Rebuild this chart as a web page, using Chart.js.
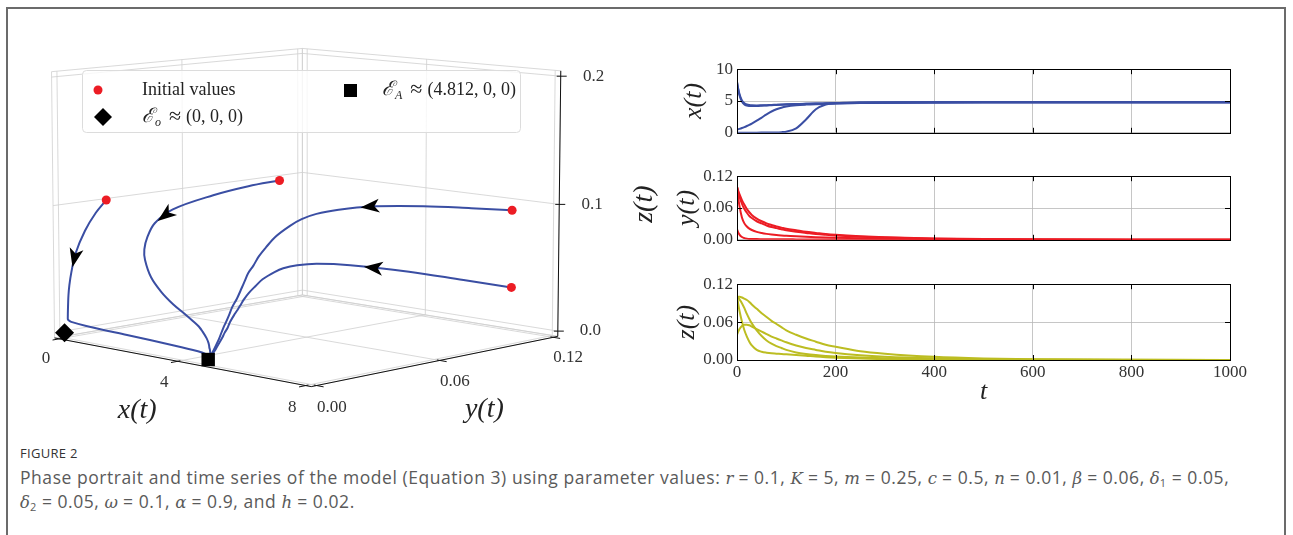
<!DOCTYPE html>
<html>
<head>
<meta charset="utf-8">
<script src="https://cdn.jsdelivr.net/npm/chart.js@4.4.1/dist/chart.umd.min.js"></script>
<style>
  body { margin: 0; background: #fff; width: 1293px; height: 535px; overflow: hidden; position: relative; }
  #frame { position: absolute; left: 6px; top: 7px; width: 1276px; height: 560px; border: 2px solid #6b6b6b; border-bottom: 0; }
  canvas { position: absolute; }
  #phase { left: 0; top: 0; }
  #tsx { left: 630px; top: 55px; }
  #tsy { left: 630px; top: 162px; }
  #tsz { left: 630px; top: 270px; }
  .figno { position: absolute; left: 20px; top: 444px; font: 13px "Open Sans", sans-serif; color: #333; letter-spacing: 0.3px; }
  .caption { position: absolute; left: 20px; top: 466px; width: 1262px; font: 17.5px "Open Sans", sans-serif; letter-spacing: 0.55px; line-height: 22px; color: #5a5a5a; white-space: nowrap; }
  .caption i { font-family: "DejaVu Serif", serif; font-size: 16.5px; letter-spacing: 0; }
  .caption sub { font-size: 11px; line-height: 0; vertical-align: -3px; }
</style>
</head>
<body>
<div id="frame"></div>
<canvas id="phase" width="680" height="430"></canvas>
<canvas id="tsx" width="620" height="92"></canvas>
<canvas id="tsy" width="620" height="92"></canvas>
<canvas id="tsz" width="620" height="140"></canvas>
<div class="figno">FIGURE 2</div>
<div class="caption">Phase portrait and time series of the model (Equation 3) using parameter values: <i>r</i> = 0.1, <i>K</i> = 5, <i>m</i> = 0.25, <i>c</i> = 0.5, <i>n</i> = 0.01, <i>β</i> = 0.06, <i>δ</i><sub>1</sub> = 0.05,<br><i>δ</i><sub>2</sub> = 0.05, <i>ω</i> = 0.1, <i>α</i> = 0.9, and <i>h</i> = 0.02.</div>

<script>
'use strict';

// time samples shared by the four solutions
const TIME = [0, 2, 5, 10, 15, 20, 25, 30, 40, 50, 60, 70, 80, 90, 100, 120, 140, 160, 180, 200, 250, 300, 400, 500, 600, 800, 1000];

// solution 1, starts near (0.02, 0.02, 0.1)
const X1 = [0.02, 0.02, 0.02, 0.02, 0.021, 0.021, 0.022, 0.023, 0.026, 0.03, 0.036, 0.045, 0.06, 0.1, 0.17, 0.7, 2.1, 3.7, 4.45, 4.68, 4.79, 4.81, 4.81, 4.81, 4.81, 4.81, 4.81];
const Y1 = [0.02, 0.015, 0.0098, 0.0052, 0.0032, 0.0022, 0.0017, 0.0015, 0.0013, 0.0012, 0.0011, 0.001, 0.001, 0.001, 0.0009, 0.0008, 0.0007, 0.0006, 0.0005, 0.0004, 0.0003, 0.0002, 0.0001, 0.0001, 0, 0, 0];
const Z1 = [0.1, 0.091, 0.078, 0.061, 0.047, 0.037, 0.029, 0.023, 0.016, 0.013, 0.0115, 0.0105, 0.01, 0.0095, 0.009, 0.008, 0.0068, 0.0055, 0.0045, 0.0037, 0.0022, 0.0013, 0.0005, 0.0002, 0.0001, 0, 0];

// solution 2, starts at (0.5, 0.1, 0.1)
const X2 = [0.5, 0.55, 0.62, 0.75, 0.9, 1.07, 1.25, 1.45, 1.9, 2.4, 2.9, 3.35, 3.7, 3.95, 4.12, 4.32, 4.43, 4.5, 4.55, 4.6, 4.68, 4.73, 4.78, 4.8, 4.81, 4.81, 4.81];
const Y2 = [0.1, 0.083, 0.064, 0.042, 0.031, 0.025, 0.021, 0.0185, 0.015, 0.0128, 0.0112, 0.01, 0.009, 0.0082, 0.0075, 0.0065, 0.0057, 0.005, 0.0044, 0.0039, 0.0029, 0.0022, 0.0012, 0.0007, 0.0004, 0.0001, 0];
const Z2 = [0.1, 0.099, 0.096, 0.09, 0.082, 0.073, 0.065, 0.058, 0.047, 0.038, 0.031, 0.026, 0.022, 0.019, 0.016, 0.012, 0.0095, 0.0078, 0.0065, 0.0055, 0.0038, 0.0027, 0.0014, 0.0007, 0.0004, 0.0001, 0];

// solution 3, starts at (8, 0.1, 0.1)
const X3 = [8, 7.1, 6.1, 5.1, 4.65, 4.45, 4.36, 4.32, 4.3, 4.32, 4.35, 4.38, 4.41, 4.44, 4.47, 4.52, 4.56, 4.6, 4.63, 4.66, 4.71, 4.75, 4.79, 4.8, 4.81, 4.81, 4.81];
const Y3 = [0.1, 0.094, 0.086, 0.075, 0.066, 0.058, 0.052, 0.047, 0.04, 0.035, 0.031, 0.028, 0.025, 0.023, 0.021, 0.018, 0.015, 0.013, 0.011, 0.0095, 0.0068, 0.0049, 0.0025, 0.0013, 0.0007, 0.0002, 0.0001];
const Z3 = [0.1, 0.1, 0.1, 0.099, 0.097, 0.095, 0.092, 0.088, 0.081, 0.074, 0.068, 0.062, 0.057, 0.052, 0.047, 0.04, 0.034, 0.029, 0.024, 0.021, 0.014, 0.01, 0.005, 0.0025, 0.0013, 0.0004, 0.0001];

// solution 4, starts at (8, 0.1, 0.04)
const X4 = [8, 7.0, 5.9, 4.9, 4.45, 4.28, 4.22, 4.2, 4.21, 4.25, 4.3, 4.34, 4.38, 4.42, 4.45, 4.5, 4.55, 4.59, 4.62, 4.65, 4.7, 4.74, 4.78, 4.8, 4.81, 4.81, 4.81];
const Y4 = [0.1, 0.092, 0.082, 0.068, 0.058, 0.051, 0.045, 0.041, 0.035, 0.031, 0.027, 0.024, 0.022, 0.02, 0.018, 0.015, 0.013, 0.011, 0.0095, 0.0082, 0.0058, 0.0042, 0.0022, 0.0011, 0.0006, 0.0002, 0.0001];
const Z4 = [0.04, 0.044, 0.049, 0.054, 0.056, 0.056, 0.055, 0.053, 0.049, 0.045, 0.041, 0.037, 0.034, 0.031, 0.028, 0.023, 0.019, 0.016, 0.013, 0.011, 0.0075, 0.0052, 0.0026, 0.0013, 0.0007, 0.0002, 0.0001];

// time along each solution where the direction arrow sits
const ARROW_T = [11, 12, 10, 8];

// equilibria
const EQ_O = [0, 0, 0];
const EQ_A = [4.812, 0, 0];

// axis limits and ticks
const X_LIM = [0, 8], Y_LIM = [0, 0.12], Z_LIM = [0, 0.2];
const X_TICKS = [0, 4, 8];
const Y_TICKS = [0, 0.06, 0.12];
const Z_TICKS = [0, 0.1, 0.2];
const T_TICKS = [0, 200, 400, 600, 800, 1000];
const XT_TICKS = [0, 5, 10];
const YT_TICKS = [0, 0.06, 0.12];

const BLUE = '#3a4ea3';
const RED = '#ec1c24';
const OLIVE = '#bcbd22';
const GRID = '#b8b8b8';
const SERIF = '"Liberation Serif", "DejaVu Serif", serif';

// ---------- 3d projection, roughly matplotlib's perspective view ----------
const AZIM = -46 * Math.PI / 180;
const ELEV = 8 * Math.PI / 180;
const DIST = 35;
const SCALE = 89.5;
const CX = 306.5, CY = 205;

// matplotlib pads the box by 1/48 of the range on each side
function boxLim(lim) {
  const pad = (lim[1] - lim[0]) / 48;
  return [lim[0] - pad, lim[1] + pad];
}
function norm(v, lim, size) {
  const b = boxLim(lim);
  return ((v - b[0]) / (b[1] - b[0]) - 0.5) * size;
}
function screenN(X, Y, Z) {
  const sa = Math.sin(AZIM), ca = Math.cos(AZIM), se = Math.sin(ELEV), ce = Math.cos(ELEV);
  const sx = -sa * X + ca * Y;
  const sy = -se * ca * X - se * sa * Y + ce * Z;
  const d = ce * ca * X + ce * sa * Y + se * Z;
  const f = DIST / (DIST - d);
  return { x: CX + SCALE * sx * f, y: CY - SCALE * sy * f };
}
function project(x, y, z) {
  return screenN(norm(x, X_LIM, 4), norm(y, Y_LIM, 4), norm(z, Z_LIM, 3));
}

const SOLUTIONS = [[X1, Y1, Z1], [X2, Y2, Z2], [X3, Y3, Z3], [X4, Y4, Z4]];

const trajDatasets = SOLUTIONS.map(([xs, ys, zs]) => ({
  data: TIME.map((t, i) => project(xs[i], ys[i], zs[i])),
  showLine: true,
  borderColor: BLUE,
  borderWidth: 2,
  pointRadius: 0,
  tension: 0.35,
  order: 2
}));

const initDataset = {
  data: SOLUTIONS.map(([xs, ys, zs]) => project(xs[0], ys[0], zs[0])),
  pointRadius: 4.5,
  pointBackgroundColor: RED,
  pointBorderWidth: 0,
  showLine: false,
  order: 0
};
const eqODataset = {
  data: [project(...EQ_O)],
  pointStyle: 'rectRot',
  pointRadius: 9.5,
  pointBackgroundColor: '#000',
  pointBorderWidth: 0,
  order: 0
};
const eqADataset = {
  data: [project(...EQ_A)],
  pointStyle: 'rect',
  pointRadius: 9.5,
  pointBackgroundColor: '#000',
  pointBorderWidth: 0,
  order: 0
};

// box, grid, axes and labels of the 3d plot
const boxPlugin = {
  id: 'box3d',
  beforeDatasetsDraw(chart) {
    const c = chart.ctx;
    const sxs = chart.scales.x, sys = chart.scales.y;
    const px = p => ({ x: sxs.getPixelForValue(p.x), y: sys.getPixelForValue(p.y) });
    const [xl, xh] = boxLim(X_LIM), [yl, yh] = boxLim(Y_LIM), [zl, zh] = boxLim(Z_LIM);
    const P = (x, y, z) => px(project(x, y, z));
    const N = (X, Y, Z) => px(screenN(X, Y, Z));
    const seg = (a, b) => { c.beginPath(); c.moveTo(a.x, a.y); c.lineTo(b.x, b.y); c.stroke(); };
    c.save();
    c.strokeStyle = '#cfcfcf';
    c.lineWidth = 0.8;
    // left wall
    for (const y of [yl, ...Y_TICKS, yh]) seg(P(xl, y, zl), P(xl, y, zh));
    for (const z of [zl, ...Z_TICKS, zh]) seg(P(xl, yl, z), P(xl, yh, z));
    // back wall
    for (const x of [xl, ...X_TICKS, xh]) seg(P(x, yh, zl), P(x, yh, zh));
    for (const z of [zl, ...Z_TICKS, zh]) seg(P(xl, yh, z), P(xh, yh, z));
    // floor
    for (const x of [xl, ...X_TICKS, xh]) seg(P(x, yl, zl), P(x, yh, zl));
    for (const y of [yl, ...Y_TICKS, yh]) seg(P(xl, y, zl), P(xh, y, zl));

    // axis lines
    c.strokeStyle = '#111';
    c.lineWidth = 1;
    seg(P(xl, yl, zl), P(xh, yl, zl));
    seg(P(xh, yl, zl), P(xh, yh, zl));
    seg(P(xh, yh, zl), P(xh, yh, zh));

    // ticks
    for (const x of X_TICKS) {
      const nx = norm(x, X_LIM, 4);
      seg(N(nx, -2 + 0.04, -1.5), N(nx, -2 - 0.1, -1.5));
    }
    for (const y of Y_TICKS) {
      const ny = norm(y, Y_LIM, 4);
      seg(N(2 - 0.04, ny, -1.5), N(2 + 0.1, ny, -1.5));
    }
    for (const z of Z_TICKS) {
      const p = P(xh, yh, z);
      seg({ x: p.x - 4, y: p.y }, { x: p.x + 6, y: p.y });
    }

    // tick labels
    c.fillStyle = '#333';
    c.font = '17px ' + SERIF;
    c.textAlign = 'center';
    c.textBaseline = 'middle';
    for (const x of X_TICKS) {
      const p = N(norm(x, X_LIM, 4), -2 - 0.2, -1.5 - 0.2);
      c.fillText(String(x), p.x, p.y);
    }
    for (const y of Y_TICKS) {
      const p = N(2 + 0.22, norm(y, Y_LIM, 4), -1.5 - 0.2);
      c.fillText(y.toFixed(2), p.x, p.y);
    }
    for (const z of Z_TICKS) {
      const p = N(2 + 0.26, 2 + 0.26, norm(z, Z_LIM, 3));
      c.fillText(z.toFixed(1), p.x, p.y);
    }

    // axis titles
    c.font = 'italic 28px ' + SERIF;
    c.fillStyle = '#222';
    let p = N(0, -2 - 0.6, -1.5 - 0.45);
    c.fillText('x(t)', p.x, p.y);
    p = N(2 + 0.64, 0, -1.5 - 0.45);
    c.fillText('y(t)', p.x, p.y);
    p = N(2 + 0.68, 2 + 0.68, 0);
    c.translate(p.x, p.y);
    c.rotate(-Math.PI / 2);
    c.fillText('z(t)', 0, 0);
    c.restore();
  },
  afterDatasetsDraw(chart) {
    const c = chart.ctx;
    const sxs = chart.scales.x, sys = chart.scales.y;
    const px = p => ({ x: sxs.getPixelForValue(p.x), y: sys.getPixelForValue(p.y) });
    c.save();
    c.fillStyle = '#000';
    SOLUTIONS.forEach(([xs, ys, zs], k) => {
      const ta = ARROW_T[k];
      const i = TIME.findIndex(t => t > ta) - 1;
      const f = (ta - TIME[i]) / (TIME[i + 1] - TIME[i]);
      const lerp = a => a[i] + f * (a[i + 1] - a[i]);
      const p = px(project(lerp(xs), lerp(ys), lerp(zs)));
      const a = px(project(xs[i], ys[i], zs[i]));
      const b = px(project(xs[i + 1], ys[i + 1], zs[i + 1]));
      const ang = Math.atan2(b.y - a.y, b.x - a.x);
      c.save();
      c.translate(p.x, p.y);
      c.rotate(ang);
      c.beginPath();
      c.moveTo(10, 0);
      c.lineTo(-9, -7);
      c.lineTo(-4, 0);
      c.lineTo(-9, 7);
      c.closePath();
      c.fill();
      c.restore();
    });
    c.restore();
  },
  afterDraw(chart) {
    const c = chart.ctx;
    c.save();
    // legend box
    c.beginPath();
    c.roundRect(82.5, 70.5, 438, 62, 4);
    c.fillStyle = 'rgba(255,255,255,0.8)';
    c.fill();
    c.strokeStyle = '#dcdcdc';
    c.lineWidth = 1;
    c.stroke();

    // markers
    c.fillStyle = RED;
    c.beginPath();
    c.arc(98, 90, 4.5, 0, Math.PI * 2);
    c.fill();
    c.fillStyle = '#000';
    c.beginPath();
    c.moveTo(103, 108); c.lineTo(112, 117); c.lineTo(103, 126); c.lineTo(94, 117);
    c.closePath();
    c.fill();
    c.fillRect(344, 84, 13, 13);

    // texts
    c.fillStyle = '#222';
    c.textBaseline = 'middle';
    c.textAlign = 'left';
    c.font = '18px ' + SERIF;
    c.fillText('Initial values', 142, 90);
    const eqLabel = (x, y, sub, rest) => {
      c.font = 'italic 20px ' + SERIF;
      c.fillText('\u2130', x, y);
      x += c.measureText('\u2130').width + 1;
      c.font = 'italic 12px ' + SERIF;
      c.fillText(sub, x, y + 6);
      x += c.measureText(sub).width + 8;
      c.font = '22px ' + SERIF;
      c.fillText('\u2248', x, y);
      x += c.measureText('\u2248').width + 5;
      c.font = '18px ' + SERIF;
      c.fillText(rest, x, y);
    };
    eqLabel(142, 117, 'o', '(0, 0, 0)');
    eqLabel(382, 90, 'A', '(4.812, 0, 0)');
    c.restore();
  }
};

new Chart(document.getElementById('phase'), {
  type: 'scatter',
  data: { datasets: [initDataset, eqODataset, eqADataset, ...trajDatasets] },
  options: {
    responsive: false,
    animation: false,
    events: [],
    layout: { padding: 0, autoPadding: false },
    plugins: { legend: { display: false }, tooltip: { enabled: false } },
    scales: {
      x: { type: 'linear', display: false, min: 0, max: 680 },
      y: { type: 'linear', display: false, min: 0, max: 430, reverse: true }
    }
  },
  plugins: [boxPlugin]
});

// ---------- time series panels ----------
// black frame plus inward tick marks on all four sides, as in the original
const framePlugin = {
  id: 'frame',
  afterDraw(chart) {
    const c = chart.ctx, a = chart.chartArea;
    const sx = chart.scales.x, sy = chart.scales.y;
    c.save();
    c.strokeStyle = '#000';
    c.lineWidth = 1;
    c.strokeRect(Math.round(a.left) + 0.5, Math.round(a.top) + 0.5, Math.round(a.right - a.left), Math.round(a.bottom - a.top));
    c.beginPath();
    for (const t of sx.ticks) {
      const x = Math.round(sx.getPixelForValue(t.value)) + 0.5;
      c.moveTo(x, a.top); c.lineTo(x, a.top + 5);
      c.moveTo(x, a.bottom); c.lineTo(x, a.bottom - 5);
    }
    for (const t of sy.ticks) {
      const y = Math.round(sy.getPixelForValue(t.value)) + 0.5;
      c.moveTo(a.left, y); c.lineTo(a.left + 5, y);
      c.moveTo(a.right, y); c.lineTo(a.right - 5, y);
    }
    c.stroke();
    c.restore();
  }
};

function makeSeries(id, series, color, yTicks, yMax, label, fmt, titleOffset, showX) {
  return new Chart(document.getElementById(id), {
    type: 'scatter',
    data: {
      datasets: series.map(vals => ({
        data: TIME.map((t, i) => ({ x: t, y: vals[i] })),
        showLine: true,
        borderColor: color,
        borderWidth: 2,
        pointRadius: 0,
        cubicInterpolationMode: 'monotone'
      }))
    },
    options: {
      responsive: false,
      animation: false,
      events: [],
      layout: { padding: { top: 10, right: 20, left: 0, bottom: 2 }, autoPadding: false },
      plugins: { legend: { display: false }, tooltip: { enabled: false } },
      scales: {
        x: {
          type: 'linear', min: 0, max: 1000,
          afterBuildTicks: s => { s.ticks = T_TICKS.map(v => ({ value: v })); },
          afterFit: s => { s.height = showX ? 48 : 0; },
          grid: { color: GRID, lineWidth: 0.8, drawTicks: false },
          border: { display: false },
          ticks: { display: showX, padding: 2, autoSkip: false, maxRotation: 0, color: '#333', font: { family: SERIF, size: 17 }, callback: v => String(v) },
          title: { display: showX, text: 't', color: '#222', font: { family: SERIF, size: 26, style: 'italic' }, padding: { top: 0, bottom: 0 } }
        },
        y: {
          type: 'linear', min: 0, max: yMax,
          afterBuildTicks: s => { s.ticks = yTicks.map(v => ({ value: v })); },
          afterFit: s => { s.width = 107; },
          grid: { color: GRID, lineWidth: 0.8, drawTicks: false },
          border: { display: false },
          ticks: { padding: 4, autoSkip: false, color: '#333', font: { family: SERIF, size: 17 }, callback: fmt },
          title: { display: true, text: label, color: '#222', font: { family: SERIF, size: 26, style: 'italic' }, padding: { top: titleOffset, bottom: 0 } }
        }
      }
    },
    plugins: [framePlugin]
  });
}

makeSeries('tsx', [X1, X2, X3, X4], BLUE, XT_TICKS, 10, 'x(t)', v => String(v), 49, false);
makeSeries('tsy', [Y1, Y2, Y3, Y4], RED, YT_TICKS, 0.12, 'y(t)', v => v.toFixed(2), 42, false);
makeSeries('tsz', [Z1, Z2, Z3, Z4], OLIVE, YT_TICKS, 0.12, 'z(t)', v => v.toFixed(2), 42, true);
</script>
</body>
</html>
